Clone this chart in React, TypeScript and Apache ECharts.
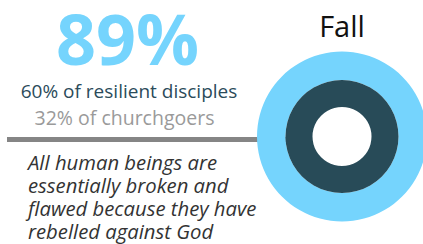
import React, { useEffect, useRef } from "react";
import * as echarts from "echarts";

const headline = "89%";
const ringNames = ["Overall", "Resilient disciples"];
const ringValues = [89, 60];
const subLines = ["60% of resilient disciples", "32% of churchgoers"];
const statementLines = [
  "All human beings are",
  "essentially broken and",
  "flawed because they have",
  "rebelled against God",
];
const chartTitle = "Fall";

const LIGHT = "#75D4FD";
const DARK = "#284B58";
const FONT = "'Open Sans', 'Noto Sans', sans-serif";

export default function App() {
  const ref = useRef<HTMLDivElement>(null);
  useEffect(() => {
    if (!ref.current) return;
    const chart = echarts.init(ref.current, null, { renderer: "svg" });
    const cx = 342;
    const cy = 136.5;
    chart.setOption({
      animation: false,
      backgroundColor: "#ffffff",
      graphic: [
        {
          type: "line",
          shape: { x1: 7, y1: 139.5, x2: 300, y2: 139.5 },
          style: { stroke: "#858585", lineWidth: 5 },
          z: 0,
          zlevel: 0,
        },
        {
          type: "text",
          x: 127.5,
          y: 38,
          style: {
            text: headline,
            fontSize: 70,
            lineHeight: 52,
            fontWeight: "bold",
            fontFamily: FONT,
            fill: LIGHT,
            align: "center",
            verticalAlign: "middle",
          },
        },
        {
          type: "text",
          x: 129,
          y: 91.3,
          style: {
            text: subLines[0],
            fontSize: 19,
            lineHeight: 20,
            fontFamily: FONT,
            fill: "#2B4B5A",
            align: "center",
            verticalAlign: "middle",
          },
        },
        {
          type: "text",
          x: 124.5,
          y: 117.5,
          style: {
            text: subLines[1],
            fontSize: 19.5,
            lineHeight: 20,
            fontFamily: FONT,
            fill: "#9A9A9A",
            align: "center",
            verticalAlign: "middle",
          },
        },
        {
          type: "text",
          x: 28,
          y: 150.2,
          style: {
            text: statementLines.join("\n"),
            fontSize: 20.3,
            lineHeight: 23,
            fontStyle: "italic",
            fontFamily: FONT,
            fill: "#333333",
            align: "left",
            verticalAlign: "top",
          },
        },
        {
          type: "text",
          x: 342,
          y: 25,
          style: {
            text: chartTitle,
            fontSize: 29,
            fontFamily: FONT,
            fill: "#111111",
            align: "center",
            verticalAlign: "middle",
          },
        },
      ],
      series: [
        {
          type: "pie",
          name: ringNames[0],
          center: [cx, cy],
          radius: [56.5, 85],
          silent: true,
          label: { show: false },
          labelLine: { show: false },
          itemStyle: { color: LIGHT, borderWidth: 0 },
          data: [{ name: ringNames[0], value: ringValues[0] }],
          z: 5,
        },
        {
          type: "pie",
          name: ringNames[1],
          center: [cx, cy],
          radius: [29.5, 56.5],
          silent: true,
          label: { show: false },
          labelLine: { show: false },
          itemStyle: { color: DARK, borderWidth: 0 },
          data: [{ name: ringNames[1], value: ringValues[1] }],
          z: 5,
        },
      ],
    });
    return () => chart.dispose();
  }, []);
  return (
    <div
      ref={ref}
      style={{ position: "fixed", left: 0, top: 0, width: 423, height: 244 }}
    />
  );
}
